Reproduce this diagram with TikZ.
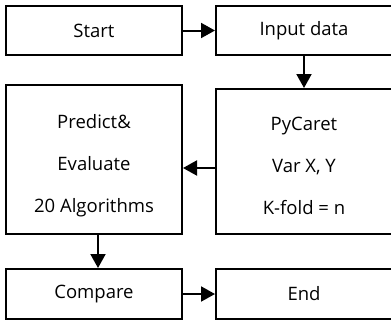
\documentclass[tikz,border=0pt]{standalone}
\usepackage{fontspec}
\setmainfont{Open Sans}
\usetikzlibrary{arrows.meta}
\begin{document}
\begin{tikzpicture}[x=1pt,y=-1pt,
  box/.style={draw=black,line width=2pt,rectangle,inner sep=0pt,
    font=\fontsize{18.5}{22}\selectfont},
  lbl/.style={align=center,inner sep=0pt,
    font=\fontsize{18.5}{42}\selectfont},
  flow/.style={line width=2pt,-{Triangle[length=14pt,width=15pt]}}]
\clip (0,0) rectangle (391,322);
\fill[white] (0,0) rectangle (391,322);
% top row
\node[box,minimum width=176pt,minimum height=49pt] (start) at (94,30.5) {Start};
\node[box,minimum width=176pt,minimum height=49pt] (input) at (304,30.5) {Input data};
% middle row
\node[box,minimum width=176pt,minimum height=149pt] (pred) at (94,159.5) {};
\node[box,minimum width=176pt,minimum height=145pt] (pyc) at (304,161.5) {};
\node[lbl] (predtxt) at (94,166) {Predict\&\\Evaluate\\20 Algorithms};
\node[lbl] (pyctxt) at (304,166) {PyCaret\\Var X, Y\\K-fold = n};
% bottom row
\node[box,minimum width=176pt,minimum height=50pt] (cmp) at (94,294) {\raisebox{-2pt}{Compare}};
\node[box,minimum width=176pt,minimum height=50pt] (fin) at (304,294) {\raisebox{-2pt}{End}};
% connectors
\coordinate (mid) at (0,168);
\draw[flow] (start) -- (input);
\draw[flow] (input) -- (pyc);
\draw[flow] (pyc.west |- mid) -- (pred.east |- mid);
\draw[flow] ([xshift=4pt]pred.south) -- ([xshift=4pt]cmp.north);
\draw[flow] (cmp) -- (fin);
\end{tikzpicture}
\end{document}
